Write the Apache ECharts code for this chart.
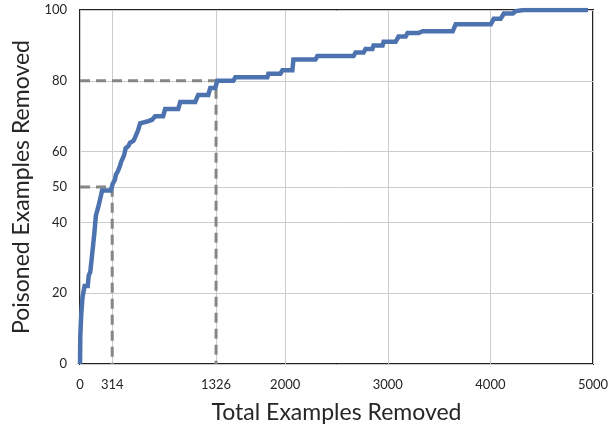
<!DOCTYPE html>
<html>
<head>
<meta charset="utf-8">
<script src="https://cdn.jsdelivr.net/npm/echarts@6/dist/echarts.min.js"></script>
<style>html,body{margin:0;padding:0;background:#fff}#c{width:611px;height:425px}</style>
</head>
<body>
<div id="c"></div>
<script>
const xTicks = [0, 314, 1326, 2000, 3000, 4000, 5000];
const yTicks = [0, 20, 40, 50, 60, 80, 100];
const curveX = [0, 3, 12, 25, 45, 75, 85, 100, 115, 140, 155, 175, 200, 215, 300, 320, 340, 350, 370, 390, 400, 430, 445, 470, 488, 520, 537, 556, 566, 586, 654, 660, 703, 732, 810, 830, 957, 977, 1123, 1152, 1250, 1270, 1318, 1338, 1494, 1514, 1826, 1836, 1953, 1973, 2070, 2080, 2295, 2314, 2666, 2686, 2764, 2783, 2850, 2861, 2949, 2959, 3076, 3105, 3174, 3193, 3300, 3340, 3633, 3662, 4004, 4033, 4100, 4131, 4219, 4248, 4326, 4951];
const curveY = [0, 8, 14, 19, 22, 22, 25, 26, 30, 37, 42, 44, 47, 49, 49, 51, 52, 53.5, 54.5, 56, 57, 59, 61, 61.5, 62.5, 63, 64, 64.5, 66, 68, 68.5, 69, 69, 70, 70, 72, 72, 74, 74, 76, 76, 78, 78, 80, 80, 81, 81, 82, 82, 83, 83, 86, 86, 87, 87, 88, 88, 89, 89, 90, 90, 91, 91, 92.5, 92.5, 93.5, 93.5, 94, 94, 96, 96, 97.5, 97.5, 99, 99, 99.7, 100, 100];
const guideA = [[0, 50], [314, 50], [314, 0]];
const guideB = [[0, 80], [1326, 80], [1326, 0]];

const chart = echarts.init(document.getElementById('c'));
const font = 'Lato, "DejaVu Sans", sans-serif';
chart.setOption({
  animation: false,
  grid: {left: 80, right: 18, top: 10, bottom: 61, show: true, borderColor: '#222222', borderWidth: 2, containLabel: false, outerBoundsMode: 'none'},
  xAxis: {
    type: 'value', min: 0, max: 5000,
    name: 'Total Examples Removed', nameLocation: 'middle', nameGap: 37,
    nameTextStyle: {fontFamily: font, fontSize: 23, color: '#262626'},
    axisLine: {show: false}, axisTick: {show: false, customValues: xTicks},
    axisLabel: {customValues: xTicks, formatter: v => String(v), fontFamily: font, fontSize: 13, color: '#262626', margin: 14},
    splitLine: {show: true, lineStyle: {color: '#cccccc', width: 1}}
  },
  yAxis: {
    type: 'value', min: 0, max: 100,
    name: 'Poisoned Examples Removed', nameLocation: 'middle', nameGap: 41,
    nameTextStyle: {fontFamily: font, fontSize: 23, color: '#262626'},
    axisLine: {show: false}, axisTick: {show: false, customValues: yTicks},
    axisLabel: {customValues: yTicks, formatter: v => String(v), fontFamily: font, fontSize: 13, color: '#262626', margin: 13},
    splitLine: {show: true, lineStyle: {color: '#cccccc', width: 1}}
  },
  series: [
    {type: 'line', data: guideA, symbol: 'none', z: 3,
     lineStyle: {color: '#868686', width: 3, type: [10, 6]}},
    {type: 'line', data: guideB, symbol: 'none', z: 3,
     lineStyle: {color: '#868686', width: 3, type: [10, 6]}},
    {type: 'line', data: curveX.map((x, i) => [x, curveY[i]]), symbol: 'none', z: 4,
     lineStyle: {color: '#4C72B0', width: 4.5, join: 'miter'}}
  ]
});
</script>
</body>
</html>
